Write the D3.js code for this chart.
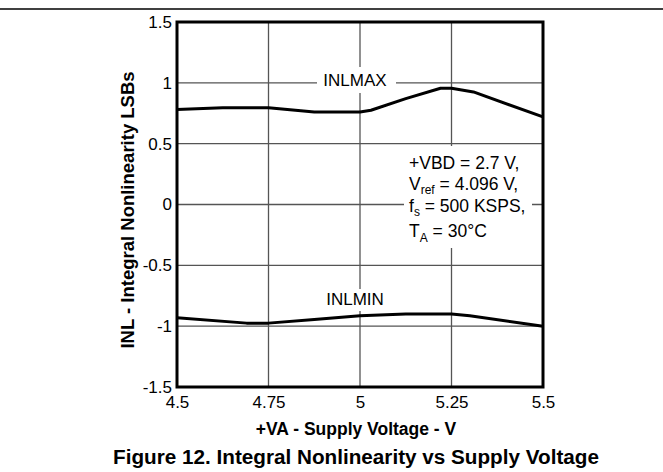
<!DOCTYPE html>
<html>
<head>
<meta charset="utf-8">
<script src="https://cdn.jsdelivr.net/npm/d3@7"></script>
<style>
  body { margin: 0; background: #fff; }
  svg { display: block; font-family: "Liberation Sans", Arial, sans-serif; }
</style>
</head>
<body>
<script>
// Data
var maxVolts = [4.5, 4.625, 4.75, 4.875, 5.0, 5.03, 5.125, 5.22, 5.25, 5.31, 5.5];
var maxInl = [0.78, 0.795, 0.795, 0.76, 0.76, 0.775, 0.87, 0.955, 0.955, 0.925, 0.72];

var minVolts = [4.5, 4.69, 4.75, 4.875, 5.0, 5.125, 5.25, 5.3, 5.5];
var minInl = [-0.93, -0.975, -0.975, -0.945, -0.915, -0.9, -0.9, -0.915, -1.0];

var xTicks = [4.5, 4.75, 5, 5.25, 5.5];
var xTickLabels = ["4.5", "4.75", "5", "5.25", "5.5"];
var yTicks = [-1.5, -1, -0.5, 0, 0.5, 1, 1.5];
var yTickLabels = ["-1.5", "-1", "-0.5", "0", "0.5", "1", "1.5"];

var w = 663;
var h = 472;
// plot box edges (window.top is reserved, hence the names)
var plotLeft = 177, plotRight = 543, plotTop = 22, plotBottom = 387;

var svg = d3.select("body")
  .append("svg")
  .attr("width", w)
  .attr("height", h);

// rule at the very top of the page
svg.append("line")
  .attr("x1", 0).attr("x2", w)
  .attr("y1", 9).attr("y2", 9)
  .attr("stroke", "#000")
  .attr("stroke-width", 1.5);

var xScale = d3.scaleLinear().domain([4.5, 5.5]).range([plotLeft, plotRight]);
var yScale = d3.scaleLinear().domain([-1.5, 1.5]).range([plotBottom, plotTop]);

// grid lines
svg.append("g").selectAll("line")
  .data(xTicks.slice(1, -1))
  .enter().append("line")
  .attr("x1", function(d) { return xScale(d); })
  .attr("x2", function(d) { return xScale(d); })
  .attr("y1", plotTop).attr("y2", plotBottom)
  .attr("stroke", "#555").attr("stroke-width", 1.3);

svg.append("g").selectAll("line")
  .data(yTicks.slice(1, -1))
  .enter().append("line")
  .attr("y1", function(d) { return yScale(d); })
  .attr("y2", function(d) { return yScale(d); })
  .attr("x1", plotLeft).attr("x2", plotRight)
  .attr("stroke", "#555").attr("stroke-width", 1.3);

// white patches behind the labels
svg.append("rect").attr("x", 317).attr("y", 67).attr("width", 79).attr("height", 26).attr("fill", "#fff");
svg.append("rect").attr("x", 320).attr("y", 289).attr("width", 70).attr("height", 22).attr("fill", "#fff");
svg.append("rect").attr("x", 404).attr("y", 146).attr("width", 128).attr("height", 102).attr("fill", "#fff");

// curves
var line = d3.line()
  .x(function(d) { return xScale(d[0]); })
  .y(function(d) { return yScale(d[1]); });

var series = [d3.zip(maxVolts, maxInl), d3.zip(minVolts, minInl)];
svg.append("g").selectAll("path")
  .data(series)
  .enter().append("path")
  .attr("d", line)
  .attr("fill", "none")
  .attr("stroke", "#000")
  .attr("stroke-width", 3)
  .attr("stroke-linejoin", "round");

// plot frame
svg.append("rect")
  .attr("x", plotLeft).attr("y", plotTop)
  .attr("width", plotRight - plotLeft).attr("height", plotBottom - plotTop)
  .attr("fill", "none")
  .attr("stroke", "#000")
  .attr("stroke-width", 3);

// axes (labels only)
var xAxis = svg.append("g")
  .attr("transform", "translate(0," + plotBottom + ")")
  .call(d3.axisBottom(xScale).tickValues(xTicks).tickSize(0).tickPadding(9)
    .tickFormat(function(d, i) { return xTickLabels[i]; }));
var yAxis = svg.append("g")
  .attr("transform", "translate(" + plotLeft + ",0)")
  .call(d3.axisLeft(yScale).tickValues(yTicks).tickSize(0).tickPadding(5)
    .tickFormat(function(d, i) { return yTickLabels[i]; }));
[xAxis, yAxis].forEach(function(a) {
  a.select(".domain").remove();
  a.selectAll("text")
    .style("font-family", "Liberation Sans, Arial, sans-serif")
    .style("font-size", "17px")
    .attr("fill", "#000");
});

// curve labels
svg.append("text").attr("x", 355).attr("y", 86)
  .attr("text-anchor", "middle").style("font-size", "17px").text("INLMAX");
svg.append("text").attr("x", 355).attr("y", 305)
  .attr("text-anchor", "middle").style("font-size", "17px").text("INLMIN");

// conditions note
var note = svg.append("g").style("font-size", "17.5px");
note.append("text").attr("x", 409).attr("y", 169).text("+VBD = 2.7 V,");
var t2 = note.append("text").attr("x", 409).attr("y", 189.5);
t2.append("tspan").text("V");
t2.append("tspan").attr("dy", 4).style("font-size", "12px").text("ref");
t2.append("tspan").attr("dy", -4).text(" = 4.096 V,");
var t3 = note.append("text").attr("x", 409).attr("y", 211.5);
t3.append("tspan").text("f");
t3.append("tspan").attr("dy", 4).style("font-size", "12px").text("s");
t3.append("tspan").attr("dy", -4).text(" = 500 KSPS,");
var t4 = note.append("text").attr("x", 409).attr("y", 237);
t4.append("tspan").text("T");
t4.append("tspan").attr("dy", 5).style("font-size", "12px").text("A");
t4.append("tspan").attr("dy", -5).text(" = 30\u00B0C");

// axis titles
svg.append("text")
  .attr("x", 356).attr("y", 435)
  .attr("text-anchor", "middle")
  .style("font-size", "17.5px").style("font-weight", "bold")
  .text("+VA - Supply Voltage - V");

svg.append("text")
  .attr("transform", "translate(134,210) rotate(-90)")
  .attr("text-anchor", "middle")
  .style("font-size", "18.5px").style("font-weight", "bold")
  .text("INL - Integral Nonlinearity LSBs");

// figure caption
svg.append("text")
  .attr("x", 356).attr("y", 464)
  .attr("text-anchor", "middle")
  .style("font-size", "20.7px").style("font-weight", "bold")
  .text("Figure 12. Integral Nonlinearity vs Supply Voltage");
</script>
</body>
</html>
